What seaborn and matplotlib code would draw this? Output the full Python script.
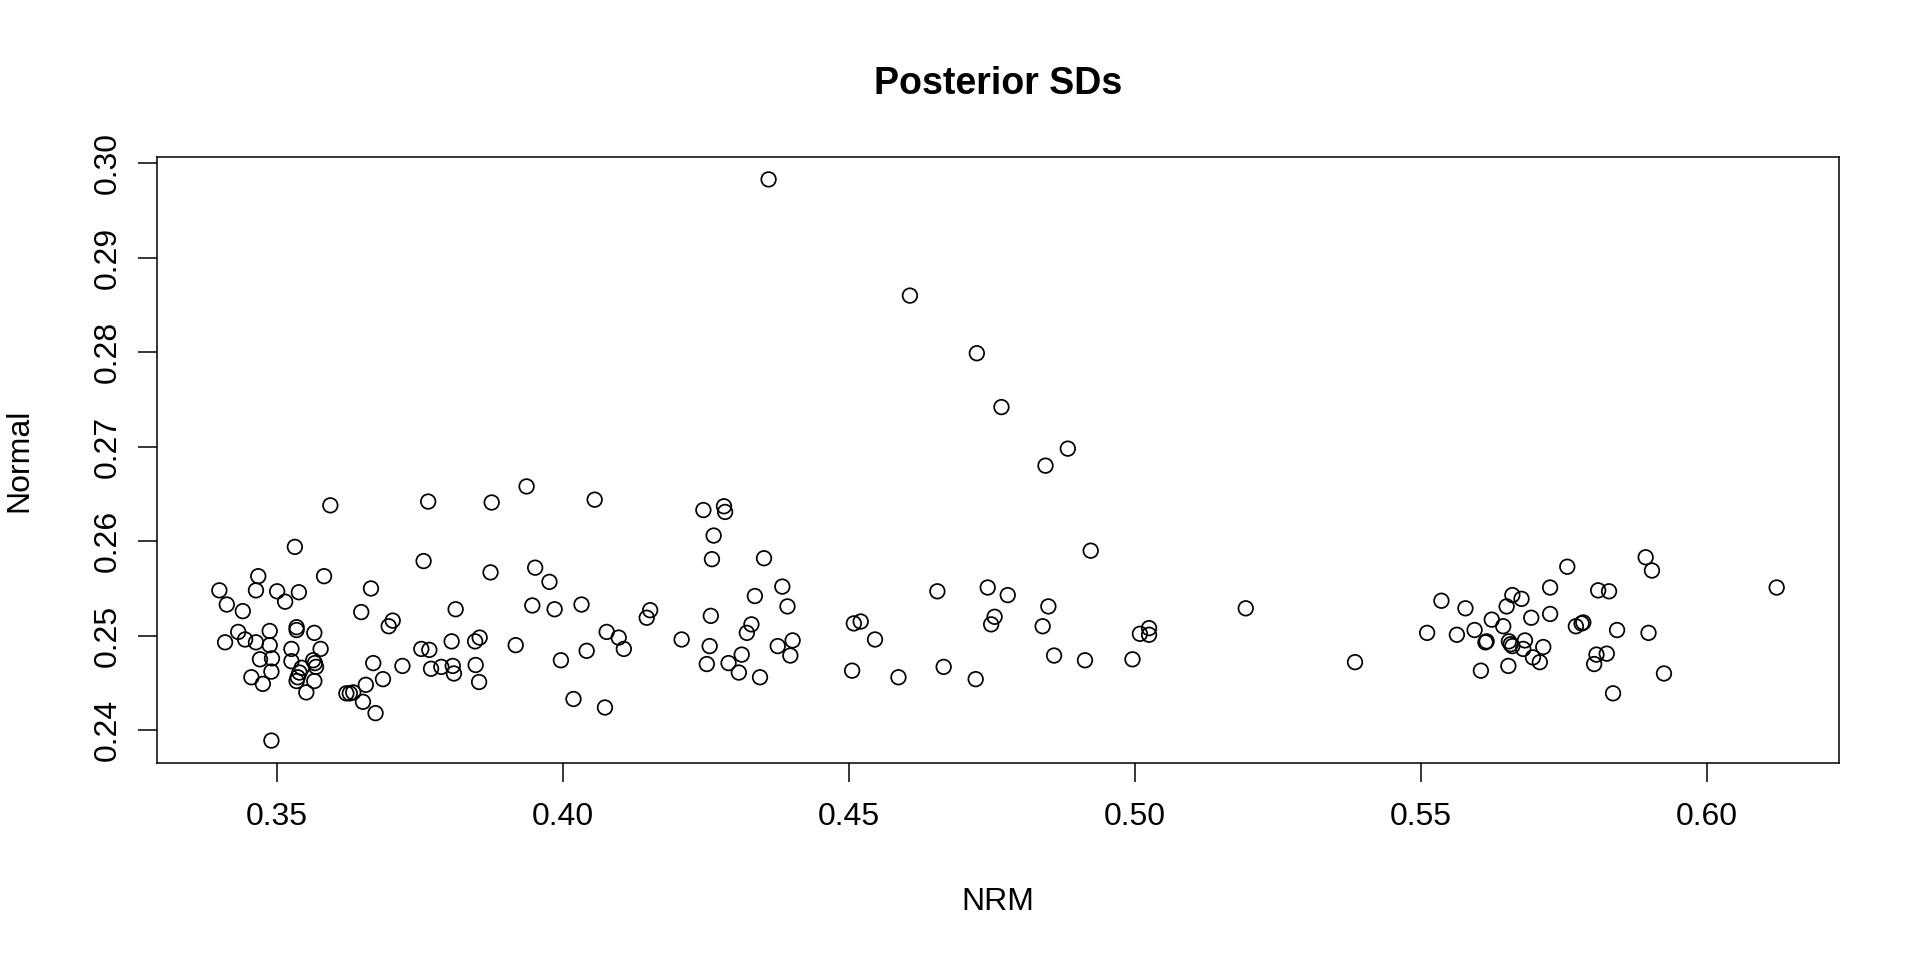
import matplotlib
matplotlib.use("Agg")
import matplotlib.pyplot as plt
import seaborn as sns
import numpy as np
import pandas as pd

# ---- data ----
nrm = [
    0.3532, 0.3757, 0.3874, 0.3468, 0.3583, 0.3400, 0.3464, 0.3501, 0.3539, 0.3665,
    0.3413, 0.3515, 0.3441, 0.3648, 0.3813, 0.3703, 0.3696, 0.3433, 0.3488, 0.3535,
    0.3535, 0.3566, 0.3410, 0.3445, 0.3464, 0.3488, 0.3526, 0.3577, 0.3753, 0.3767,
    0.3806, 0.3847, 0.3855, 0.3471, 0.3492, 0.3526, 0.3564, 0.3567, 0.3569, 0.3544,
    0.3540, 0.3537, 0.3535, 0.3491, 0.3456, 0.3476, 0.3566, 0.3552, 0.3669, 0.3720,
    0.3686, 0.3656, 0.3622, 0.3628, 0.3634, 0.3651, 0.3673, 0.3491, 0.3770, 0.3788,
    0.3808, 0.3810, 0.3848, 0.3854, 0.3594, 0.3765,
    0.3937, 0.3876, 0.4056, 0.4246, 0.4282, 0.4284, 0.4264, 0.4261, 0.4352, 0.3952,
    0.3977, 0.3947, 0.3986, 0.4033, 0.4153, 0.4147, 0.4384, 0.4336, 0.4393, 0.4259,
    0.4330, 0.4322, 0.3918, 0.4077, 0.4098, 0.4107, 0.4042, 0.3997, 0.4208, 0.4257,
    0.4252, 0.4290, 0.4313, 0.4308, 0.4345, 0.4376, 0.4402, 0.4398, 0.4019, 0.4074,
    0.4844, 0.4923, 0.4655, 0.4743, 0.4778, 0.4849, 0.4509, 0.4521, 0.4546, 0.4755,
    0.4749, 0.4839, 0.4506, 0.4587, 0.4666, 0.4722, 0.4859, 0.4913,
    0.4360, 0.4607, 0.4724, 0.4767, 0.4883,
    0.5194, 0.5009, 0.5025, 0.5025, 0.4996, 0.5385,
    0.5536, 0.5578, 0.5511, 0.5563, 0.5594, 0.5624, 0.5644, 0.5650, 0.5660, 0.5676,
    0.5693, 0.5726, 0.5726, 0.5756, 0.5613, 0.5615, 0.5605, 0.5654, 0.5657, 0.5660,
    0.5682, 0.5679, 0.5696, 0.5708, 0.5714, 0.5653, 0.5771, 0.5781, 0.5784, 0.5810,
    0.5829, 0.5843, 0.5807, 0.5825, 0.5803, 0.5836, 0.5893, 0.5904, 0.5898, 0.5925,
    0.6122,
]
normal = [
    0.2594, 0.2579, 0.2567, 0.2563, 0.2563, 0.2548, 0.2548, 0.2547, 0.2546, 0.2550,
    0.2533, 0.2536, 0.2526, 0.2525, 0.2528, 0.2516, 0.2510, 0.2504, 0.2505, 0.2509,
    0.2506, 0.2503, 0.2493, 0.2496, 0.2493, 0.2490, 0.2486, 0.2486, 0.2486, 0.2485,
    0.2494, 0.2494, 0.2498, 0.2475, 0.2476, 0.2473, 0.2474, 0.2471, 0.2467, 0.2466,
    0.2461, 0.2456, 0.2452, 0.2462, 0.2456, 0.2449, 0.2452, 0.2440, 0.2471, 0.2468,
    0.2454, 0.2448, 0.2439, 0.2439, 0.2440, 0.2430, 0.2418, 0.2389, 0.2465, 0.2467,
    0.2468, 0.2460, 0.2469, 0.2451, 0.2638, 0.2642,
    0.2658, 0.2641, 0.2644, 0.2633, 0.2637, 0.2631, 0.2606, 0.2581, 0.2582, 0.2572,
    0.2557, 0.2532, 0.2528, 0.2533, 0.2527, 0.2519, 0.2552, 0.2542, 0.2531, 0.2521,
    0.2512, 0.2503, 0.2490, 0.2504, 0.2498, 0.2486, 0.2484, 0.2474, 0.2496, 0.2489,
    0.2470, 0.2471, 0.2480, 0.2461, 0.2456, 0.2489, 0.2495, 0.2479, 0.2433, 0.2424,
    0.2680, 0.2590, 0.2547, 0.2551, 0.2543, 0.2531, 0.2513, 0.2515, 0.2496, 0.2520,
    0.2512, 0.2510, 0.2463, 0.2456, 0.2467, 0.2454, 0.2479, 0.2474,
    0.2983, 0.2860, 0.2799, 0.2742, 0.2698,
    0.2529, 0.2502, 0.2508, 0.2501, 0.2475, 0.2472,
    0.2537, 0.2529, 0.2503, 0.2501, 0.2506, 0.2517, 0.2510, 0.2531, 0.2543, 0.2539,
    0.2519, 0.2551, 0.2523, 0.2573, 0.2493, 0.2494, 0.2463, 0.2494, 0.2491, 0.2489,
    0.2495, 0.2486, 0.2477, 0.2472, 0.2488, 0.2468, 0.2510, 0.2513, 0.2514, 0.2548,
    0.2547, 0.2506, 0.2480, 0.2481, 0.2470, 0.2439, 0.2583, 0.2569, 0.2503, 0.2460,
    0.2551,
]
x_ticks = [0.35, 0.40, 0.45, 0.50, 0.55, 0.60]
x_tick_labels = ["0.35", "0.40", "0.45", "0.50", "0.55", "0.60"]
y_ticks = [0.24, 0.25, 0.26, 0.27, 0.28, 0.29, 0.30]
y_tick_labels = ["0.24", "0.25", "0.26", "0.27", "0.28", "0.29", "0.30"]
title = "Posterior SDs"
x_label = "NRM"
y_label = "Normal"

df = pd.DataFrame({"NRM": nrm, "Normal": normal})

sns.set_style("white")
plt.rcParams["font.family"] = ["Liberation Sans", "DejaVu Sans"]
plt.rcParams["text.color"] = "black"
plt.rcParams["axes.labelcolor"] = "black"
plt.rcParams["xtick.color"] = "black"
plt.rcParams["ytick.color"] = "black"

fig = plt.figure(figsize=(19.2, 9.6), dpi=100)
ax = fig.add_axes([0.0818, 0.2052, 0.9578 - 0.0818, 0.8365 - 0.2052])

sns.scatterplot(data=df, x="NRM", y="Normal", ax=ax, marker="o", s=110,
                fc="none", ec="black", linewidth=1.25, legend=False)

# R-style 4% padding
xr = max(nrm) - min(nrm)
yr = max(normal) - min(normal)
ax.set_xlim(min(nrm) - 0.04 * xr, max(nrm) + 0.04 * xr)
ax.set_ylim(min(normal) - 0.04 * yr, max(normal) + 0.04 * yr)

ax.set_xticks(x_ticks)
ax.set_xticklabels(x_tick_labels)
ax.set_yticks(y_ticks)
ax.set_yticklabels(y_tick_labels, rotation=90, va="center")

ax.tick_params(axis="both", direction="out", length=14, width=1.1,
               color="black", labelsize=23, labelcolor="black",
               bottom=True, left=True)
ax.tick_params(axis="x", pad=14)
ax.tick_params(axis="y", pad=11)

for sp in ax.spines.values():
    sp.set_visible(True)
    sp.set_color("black")
    sp.set_linewidth(1.1)

ax.set_title(title, fontsize=27, fontweight="bold", pad=45, color="black")
ax.set_xlabel(x_label, fontsize=23, color="black")
ax.set_ylabel(y_label, fontsize=23, color="black")
ax.xaxis.set_label_coords(0.5, -0.205)
ax.yaxis.set_label_coords(-0.073, 0.5)

fig.savefig("out.png", dpi=100, facecolor="white")
